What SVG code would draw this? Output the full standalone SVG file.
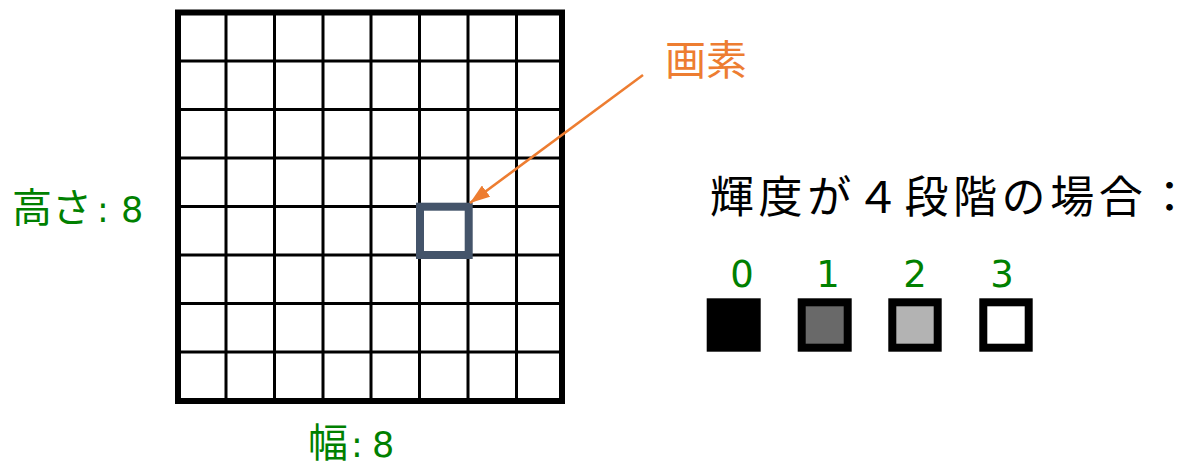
<svg xmlns="http://www.w3.org/2000/svg" width="1179" height="463" viewBox="0 0 1179 463">
<style>
.t{font-family:"Noto Sans CJK JP","Noto Sans",sans-serif}
.d{font-family:"DejaVu Sans","Noto Sans CJK JP",sans-serif}
.g{fill:#008000}
.ln{stroke:#000;stroke-width:3}
.sq{stroke:#000;stroke-width:8}
</style>
<defs>
<marker id="ah" markerUnits="userSpaceOnUse" markerWidth="20" markerHeight="14" refX="20" refY="7" orient="auto">
<path d="M0,0 L20,7 L0,14 z" fill="#ED7D31"/>
</marker>
</defs>
<rect width="1179" height="463" fill="#fff"/>
<g id="grid">
<rect x="178" y="12.5" width="384" height="388.5" fill="#fff" stroke="#000" stroke-width="6"/>
<g class="ln">
<line x1="226" y1="12.5" x2="226" y2="401"/>
<line x1="274.5" y1="12.5" x2="274.5" y2="401"/>
<line x1="323" y1="12.5" x2="323" y2="401"/>
<line x1="371" y1="12.5" x2="371" y2="401"/>
<line x1="419.5" y1="12.5" x2="419.5" y2="401"/>
<line x1="468" y1="12.5" x2="468" y2="401"/>
<line x1="516.5" y1="12.5" x2="516.5" y2="401"/>
<line x1="178" y1="61" x2="562" y2="61"/>
<line x1="178" y1="109.5" x2="562" y2="109.5"/>
<line x1="178" y1="158" x2="562" y2="158"/>
<line x1="178" y1="206.5" x2="562" y2="206.5"/>
<line x1="178" y1="255" x2="562" y2="255"/>
<line x1="178" y1="303.5" x2="562" y2="303.5"/>
<line x1="178" y1="352" x2="562" y2="352"/>
</g>
</g>
<g id="pixel">
<rect x="420" y="206.7" width="48.7" height="48.3" fill="none" stroke="#44546A" stroke-width="8"/>
</g>
<g id="connectors">
<line x1="643" y1="75" x2="470" y2="203" stroke="#ED7D31" stroke-width="2.5" marker-end="url(#ah)"/>
</g>
<g id="label-pixel">
<text class="t" x="665" y="75" font-size="41" fill="#ED7D31">画素</text>
</g>
<g id="label-height">
<text class="t g" y="222" font-size="40"><tspan x="12">高さ</tspan><tspan class="d" x="97" font-size="35">:</tspan><tspan class="d" x="121" font-size="35">8</tspan></text>
</g>
<g id="label-width">
<text class="t g" y="457" font-size="40"><tspan x="308">幅</tspan><tspan class="d" x="351" font-size="35">:</tspan><tspan class="d" x="372" font-size="35">8</tspan></text>
</g>
<g id="title">
<text class="t" x="710" y="213" font-size="44" letter-spacing="4.6" fill="#000">輝度が４段階の場合：</text>
</g>
<g id="level0">
<text class="d g" x="742" y="287" font-size="37" text-anchor="middle">0</text>
<rect x="706.7" y="298.3" width="54" height="53.4" fill="#000"/>
</g>
<g id="level1">
<text class="d g" x="828" y="287" font-size="37" text-anchor="middle">1</text>
<rect x="801.7" y="302.3" width="46" height="45.4" fill="#696969" class="sq"/>
</g>
<g id="level2">
<text class="d g" x="915" y="287" font-size="37" text-anchor="middle">2</text>
<rect x="892.3" y="302.3" width="45.4" height="45.4" fill="#B3B3B3" class="sq"/>
</g>
<g id="level3">
<text class="d g" x="1002" y="287" font-size="37" text-anchor="middle">3</text>
<rect x="983.3" y="302.3" width="45.4" height="45.4" fill="#fff" class="sq"/>
</g>
</svg>
